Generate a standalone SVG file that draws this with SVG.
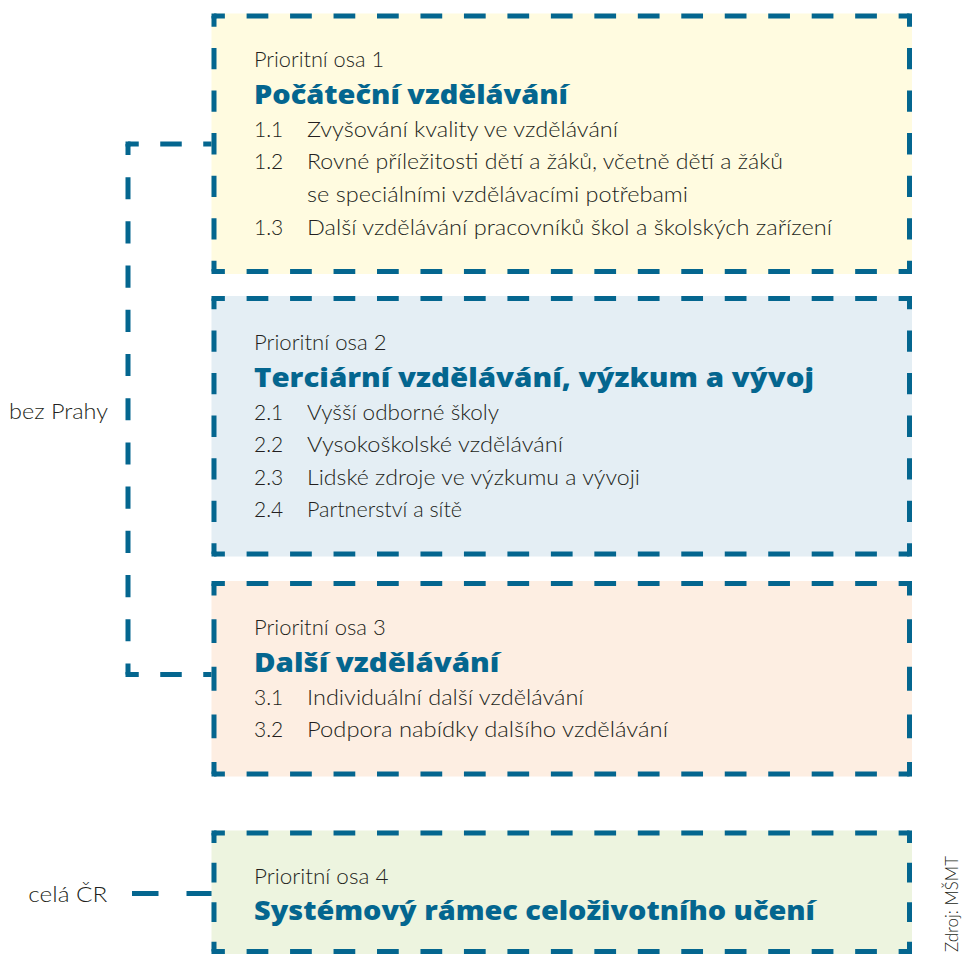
<svg xmlns="http://www.w3.org/2000/svg" width="963" height="954" viewBox="0 0 963 954">
<style>
.d{fill:none;stroke:#04668f;stroke-width:5;stroke-dasharray:1 1;stroke-dashoffset:0.5}
.c{fill:#04668f}
.t{font-family:Lato,"Liberation Sans",sans-serif;font-weight:300;font-size:21px;fill:#231f20}
.h{font-family:"Open Sans",Lato,"Liberation Sans",sans-serif;font-weight:800;font-size:26px;fill:#04668f}
</style>
<rect width="963" height="954" fill="#fff"/>
<g id="connectors">
<path class="d" pathLength="24" d="M128 144V674.5"/>
<path class="d" pathLength="4" d="M128 144H214"/>
<path class="d" pathLength="4" d="M128 674.5H214"/>
<path class="c" d="M125.5 141.5h5v5h-5zM125.5 672h5v5h-5z"/>
<path d="M132 893.5H214" fill="none" stroke="#04668f" stroke-width="5" stroke-dasharray="26.5 28"/>
</g>
<g id="box1">
<rect x="211.5" y="13.5" width="700.5" height="260.5" fill="#fffbe0"/>
<path class="d" pathLength="32" d="M214 16H909.5"/>
<path class="d" pathLength="32" d="M214 271.5H909.5"/>
<path class="d" pathLength="12" d="M214 16V271.5"/>
<path class="d" pathLength="12" d="M909.5 16V271.5"/>
<path class="c" d="M211.5 13.5h5v5h-5zM907 13.5h5v5h-5zM211.5 269h5v5h-5zM907 269h5v5h-5z"/>
<text class="t" x="254" y="67.3" textLength="130" lengthAdjust="spacingAndGlyphs">Prioritní osa 1</text>
<text class="h" x="254" y="104" textLength="314" lengthAdjust="spacingAndGlyphs">Počáteční vzdělávání</text>
<text class="t" x="254" y="136.7">1.1</text>
<text class="t" x="307" y="136.7" textLength="311" lengthAdjust="spacingAndGlyphs">Zvyšování kvality ve vzdělávání</text>
<text class="t" x="254" y="169.2">1.2</text>
<text class="t" x="307" y="169.2" textLength="476" lengthAdjust="spacingAndGlyphs">Rovné příležitosti dětí a žáků, včetně dětí a žáků</text>
<text class="t" x="307" y="201.7" textLength="381" lengthAdjust="spacingAndGlyphs">se speciálními vzdělávacími potřebami</text>
<text class="t" x="254" y="234.5">1.3</text>
<text class="t" x="307" y="234.5" textLength="525" lengthAdjust="spacingAndGlyphs">Další vzdělávání pracovníků škol a školských zařízení</text>
</g>
<g id="box2">
<rect x="211.5" y="296" width="700.5" height="260.5" fill="#e4eef4"/>
<path class="d" pathLength="32" d="M214 298.5H909.5"/>
<path class="d" pathLength="32" d="M214 554H909.5"/>
<path class="d" pathLength="12" d="M214 298.5V554"/>
<path class="d" pathLength="12" d="M909.5 298.5V554"/>
<path class="c" d="M211.5 296h5v5h-5zM907 296h5v5h-5zM211.5 551.5h5v5h-5zM907 551.5h5v5h-5z"/>
<text class="t" x="254" y="350" textLength="132.5" lengthAdjust="spacingAndGlyphs">Prioritní osa 2</text>
<text class="h" x="254" y="387" textLength="560" lengthAdjust="spacingAndGlyphs">Terciární vzdělávání, výzkum a vývoj</text>
<text class="t" x="254" y="419.5">2.1</text>
<text class="t" x="307" y="419.5" textLength="192" lengthAdjust="spacingAndGlyphs">Vyšší odborné školy</text>
<text class="t" x="254" y="452">2.2</text>
<text class="t" x="307" y="452" textLength="256" lengthAdjust="spacingAndGlyphs">Vysokoškolské vzdělávání</text>
<text class="t" x="254" y="484.5">2.3</text>
<text class="t" x="307" y="484.5" textLength="333" lengthAdjust="spacingAndGlyphs">Lidské zdroje ve výzkumu a vývoji</text>
<text class="t" x="254" y="517">2.4</text>
<text class="t" x="307" y="517" textLength="155" lengthAdjust="spacingAndGlyphs">Partnerství a sítě</text>
</g>
<g id="box3">
<rect x="211.5" y="581" width="700.5" height="195.5" fill="#fdeee2"/>
<path class="d" pathLength="32" d="M214 583.5H909.5"/>
<path class="d" pathLength="32" d="M214 774H909.5"/>
<path class="d" pathLength="8" d="M214 583.5V774"/>
<path class="d" pathLength="8" d="M909.5 583.5V774"/>
<path class="c" d="M211.5 581h5v5h-5zM907 581h5v5h-5zM211.5 771.5h5v5h-5zM907 771.5h5v5h-5z"/>
<text class="t" x="254" y="635" textLength="131.7" lengthAdjust="spacingAndGlyphs">Prioritní osa 3</text>
<text class="h" x="254" y="672" textLength="245.3" lengthAdjust="spacingAndGlyphs">Další vzdělávání</text>
<text class="t" x="254" y="705">3.1</text>
<text class="t" x="307" y="705" textLength="276.6" lengthAdjust="spacingAndGlyphs">Individuální další vzdělávání</text>
<text class="t" x="254" y="737.3">3.2</text>
<text class="t" x="307" y="737.3" textLength="361" lengthAdjust="spacingAndGlyphs">Podpora nabídky dalšího vzdělávání</text>
</g>
<g id="box4">
<rect x="211.5" y="830.5" width="700.5" height="123.5" fill="#edf4df"/>
<path class="d" pathLength="32" d="M214 833H909.5"/>
<path class="d" pathLength="32" d="M214 951.5H909.5"/>
<path class="d" pathLength="6" d="M214 833V951.5"/>
<path class="d" pathLength="6" d="M909.5 833V951.5"/>
<path class="c" d="M211.5 830.5h5v5h-5zM907 830.5h5v5h-5zM211.5 949h5v5h-5zM907 949h5v5h-5z"/>
<text class="t" x="254" y="884" textLength="134.5" lengthAdjust="spacingAndGlyphs">Prioritní osa 4</text>
<text class="h" x="254" y="920" textLength="561" lengthAdjust="spacingAndGlyphs">Systémový rámec celoživotního učení</text>
</g>
<g id="labels">
<text class="t" x="9" y="419.3" textLength="99" lengthAdjust="spacingAndGlyphs">bez Prahy</text>
<text class="t" x="28.3" y="901.5" textLength="79" lengthAdjust="spacingAndGlyphs">celá ČR</text>
<text class="t" transform="translate(958 952) rotate(-90)" x="0" y="0" style="font-size:17px" textLength="96" lengthAdjust="spacingAndGlyphs">Zdroj: MŠMT</text>
</g>
</svg>
